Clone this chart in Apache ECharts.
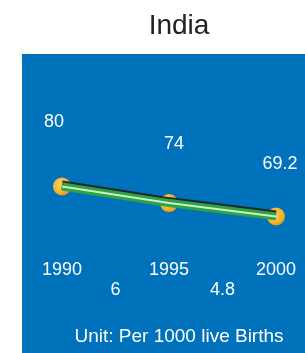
<!DOCTYPE html>
<html>
<head>
<meta charset="utf-8">
<script src="https://cdn.jsdelivr.net/npm/echarts@6/dist/echarts.min.js"></script>
<style>
  html, body { margin: 0; padding: 0; background: #fff; }
  #chart { width: 305px; height: 353px; }
</style>
</head>
<body>
<div id="chart"></div>
<script>
const years = [1990, 1995, 2000]
const rates = [80, 74, 69.2]
const declines = [6, 4.8]
const titleText = 'India'
const unitText = 'Unit: Per 1000 live Births'

const FONT = '"Liberation Sans", Arial, sans-serif'
const labelOffsets = [[-8, -64], [5, -59], [4, -52]]

const chart = echarts.init(document.getElementById('chart'), null, { renderer: 'canvas' })

const points = years.map((y, i) => [y, rates[i]])
const midYears = declines.map((d, i) => (years[i] + years[i + 1]) / 2)

const option = {
  animation: false,
  textStyle: { fontFamily: FONT },
  title: [
    {
      text: titleText,
      left: 174,
      top: 7,
      textAlign: 'center',
      textStyle: { fontSize: 28, fontWeight: 'normal', color: '#222', fontFamily: FONT }
    },
    {
      text: unitText,
      left: 174,
      top: 322,
      textAlign: 'center',
      textStyle: { fontSize: 19, fontWeight: 'normal', color: '#fff', fontFamily: FONT }
    }
  ],
  graphic: [
    {
      type: 'rect',
      z: -1,
      shape: { x: 22, y: 54, width: 283, height: 299 },
      style: { fill: '#0071bb' }
    }
  ],
  grid: { left: 62, right: 29, top: 131, bottom: 100 },
  xAxis: [
    {
      type: 'value',
      min: 1990,
      max: 2000,
      interval: 5,
      axisLine: { show: false },
      axisTick: { show: false },
      splitLine: { show: false },
      axisLabel: {
        color: '#fff',
        fontSize: 18,
        margin: 8,
        fontFamily: FONT,
        formatter: (v) => String(v)
      }
    },
    {
      type: 'value',
      position: 'bottom',
      offset: 20,
      min: 1990,
      max: 2000,
      axisLine: { show: false },
      axisTick: { show: false },
      splitLine: { show: false },
      axisLabel: {
        color: '#fff',
        fontSize: 18,
        margin: 8,
        fontFamily: FONT,
        customValues: midYears,
        formatter: (v) => {
          const i = midYears.indexOf(v)
          return i >= 0 ? String(declines[i]) : ''
        }
      }
    }
  ],
  yAxis: {
    type: 'value',
    min: 56,
    max: 100,
    show: false
  },
  series: [
    {
      type: 'scatter',
      z: 2,
      data: points,
      symbolSize: 18,
      itemStyle: {
        opacity: 1,
        color: new echarts.graphic.RadialGradient(0.42, 0.4, 0.6, [
          { offset: 0, color: '#ffd65e' },
          { offset: 0.7, color: '#f7b52c' },
          { offset: 1, color: '#e99a17' }
        ])
      },
      label: {
        show: true,
        position: 'inside',
        color: '#fff',
        fontSize: 18,
        fontFamily: FONT,
        formatter: (p) => String(p.value[1])
      },
      labelLayout: (params) => {
        const off = labelOffsets[params.dataIndex]
        return { dx: off[0], dy: off[1] }
      }
    },
    {
      type: 'line',
      z: 3,
      data: points,
      symbol: 'none',
      lineStyle: {
        width: 8,
        color: '#2ea244',
        shadowColor: 'rgba(30,30,30,0.9)',
        shadowOffsetY: -2,
        shadowBlur: 0
      }
    },
    {
      type: 'line',
      z: 4,
      data: points,
      symbol: 'none',
      lineStyle: { width: 2, color: 'rgba(225,255,225,0.85)' }
    }
  ]
}

chart.setOption(option)
</script>
</body>
</html>
